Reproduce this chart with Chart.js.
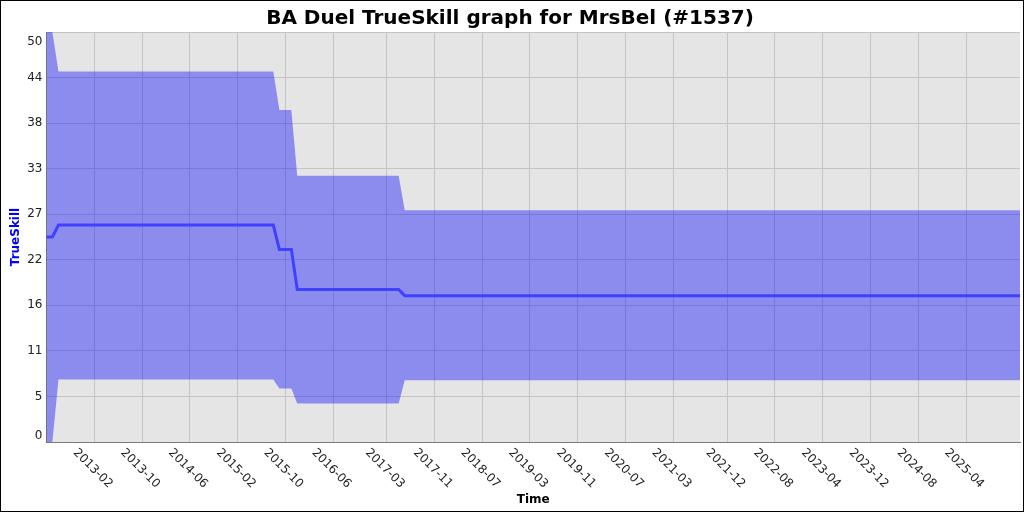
<!DOCTYPE html>
<html>
<head>
<meta charset="utf-8">
<script src="https://cdn.jsdelivr.net/npm/chart.js@4/dist/chart.umd.min.js"></script>
<style>
  html, body { margin: 0; padding: 0; background: #fff; }
  canvas { display: block; }
</style>
</head>
<body>
<canvas id="c" width="1024" height="512"></canvas>
<script>
// ---- data ----
const chartTitle = 'BA Duel TrueSkill graph for MrsBel (#1537)';
const dates = ['2012-06-01','2012-07-01','2012-08-01','2015-08-01','2015-09-01','2015-11-01','2015-12-01','2017-05-01','2017-06-01','2026-01-01'];
const meanSkill = [25, 25, 26.46, 26.46, 23.49, 23.49, 18.61, 18.61, 17.85, 17.85];
const upperBand = [50, 50, 45.18, 45.18, 40.50, 40.50, 32.48, 32.48, 28.25, 28.25];
const lowerBand = [0, 0, 7.62, 7.62, 6.52, 6.52, 4.69, 4.69, 7.53, 7.53];
const xTickLabels = ['2013-02','2013-10','2014-06','2015-02','2015-10','2016-06','2017-03','2017-11','2018-07','2019-03','2019-11','2020-07','2021-03','2021-12','2022-08','2023-04','2023-12','2024-08','2025-04'];
const yTickLabels = ['0','5','11','16','22','27','33','38','44','50'];
const yMin = 0, yMax = 50;

function toMs(s) {
  const p = s.split('-').map(Number);
  return Date.UTC(p[0], p[1] - 1, p[2] || 1);
}
const xTickValues = xTickLabels.map(toMs);
const pts = arr => arr.map((v, i) => ({ x: toMs(dates[i]), y: v }));

Chart.defaults.font.family = '"DejaVu Sans", sans-serif';
Chart.defaults.color = '#000';

const bgPlugin = {
  id: 'bg',
  beforeDraw(chart) {
    const { ctx, chartArea: a } = chart;
    ctx.save();
    ctx.fillStyle = '#ffffff';
    ctx.fillRect(0, 0, chart.width, chart.height);
    ctx.fillStyle = '#e5e5e5';
    ctx.fillRect(a.left, a.top, a.right - a.left, a.bottom - a.top);
    ctx.restore();
  },
  afterDraw(chart) {
    const { ctx } = chart;
    const xs = chart.scales.x;
    ctx.save();
    ctx.font = '12px "DejaVu Sans", sans-serif';
    ctx.fillStyle = '#222';
    ctx.textAlign = 'center';
    ctx.textBaseline = 'middle';
    xTickValues.forEach((v, i) => {
      const px = xs.getPixelForValue(v);
      ctx.save();
      ctx.translate(px - 1.8, xs.top + 26.5);
      ctx.rotate(Math.PI / 4);
      ctx.fillText(xTickLabels[i], 0, 0);
      ctx.restore();
    });
    ctx.strokeStyle = '#000';
    ctx.lineWidth = 1;
    ctx.strokeRect(0.5, 0.5, chart.width - 1, chart.height - 1);
    ctx.restore();
  }
};

new Chart(document.getElementById('c'), {
  type: 'line',
  data: {
    datasets: [
      {
        label: 'TrueSkill',
        data: pts(meanSkill),
        borderColor: '#4040ff',
        borderWidth: 3,
        pointRadius: 0,
        tension: 0,
        fill: false
      },
      {
        label: 'upper',
        data: pts(upperBand),
        borderWidth: 0,
        borderColor: 'rgba(0,0,0,0)',
        backgroundColor: 'rgba(0,0,255,0.39)',
        pointRadius: 0,
        tension: 0,
        fill: '+1'
      },
      {
        label: 'lower',
        data: pts(lowerBand),
        borderWidth: 0,
        borderColor: 'rgba(0,0,0,0)',
        pointRadius: 0,
        tension: 0,
        fill: false
      }
    ]
  },
  options: {
    responsive: false,
    animation: false,
    devicePixelRatio: 1,
    layout: { padding: { left: 0, right: 4, top: 0, bottom: 0 } },
    plugins: {
      legend: { display: false },
      tooltip: { enabled: false },
      title: {
        display: true,
        text: chartTitle,
        color: '#000',
        font: { size: 20, weight: 'bold', lineHeight: '24px' },
        padding: { top: 7, bottom: 1 }
      }
    },
    scales: {
      x: {
        type: 'linear',
        min: toMs(dates[0]),
        max: toMs(dates[dates.length - 1]),
        afterBuildTicks(scale) { scale.ticks = xTickValues.map(v => ({ value: v })); },
        afterFit(scale) { scale.height = 70; },
        ticks: { display: false },
        grid: { color: '#c4c4c4', lineWidth: 1, drawTicks: false },
        border: { display: true, color: '#7a7a7a', width: 1 },
        title: {
          display: true,
          text: 'Time',
          color: '#000',
          font: { size: 12, weight: 'bold' },
          padding: { top: 0, bottom: 5 }
        }
      },
      y: {
        type: 'linear',
        min: yMin,
        max: yMax,
        afterBuildTicks(scale) {
          scale.ticks = yTickLabels.map((l, i) => ({ value: yMin + i * (yMax - yMin) / (yTickLabels.length - 1) }));
        },
        afterFit(scale) { scale.width = 46.5; },
        ticks: {
          color: '#222',
          padding: 4,
          font: (ctx) => ({
            size: 12,
            lineHeight: ctx.index === 0 ? 1.0 : (ctx.index === yTickLabels.length - 1 ? 1.6 : 1.2)
          }),
          callback: (value, index) => {
            if (index === 0) return [yTickLabels[0], ''];
            if (index === yTickLabels.length - 1) return ['', yTickLabels[index]];
            return yTickLabels[index];
          }
        },
        grid: { color: '#c4c4c4', lineWidth: 1, drawTicks: false },
        border: { display: true, color: '#7a7a7a', width: 1 },
        title: {
          display: true,
          text: 'TrueSkill',
          color: '#0000ff',
          font: { size: 12, weight: 'bold' },
          padding: { top: 9, bottom: 0 }
        }
      }
    }
  },
  plugins: [bgPlugin]
});
</script>
</body>
</html>
